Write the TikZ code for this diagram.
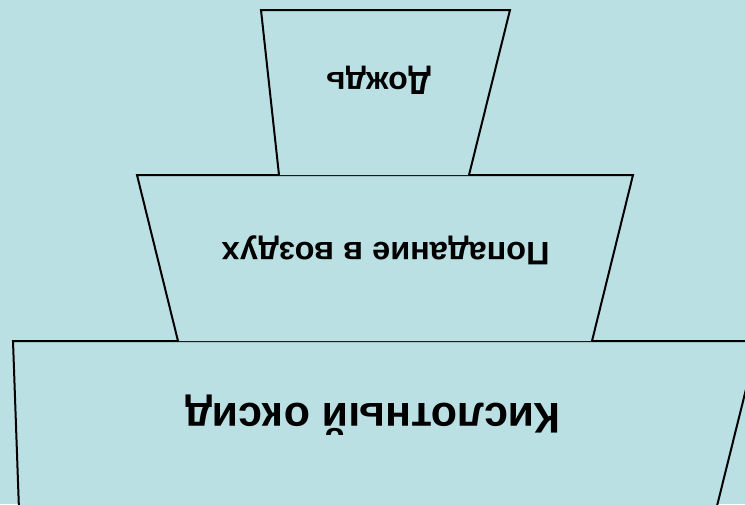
\documentclass[tikz,border=0pt]{standalone}
\usepackage{fontspec}
\setmainfont{Liberation Sans}
\definecolor{bgc}{HTML}{BBE0E3}
\begin{document}
\begin{tikzpicture}[x=1pt,y=-1pt,
  blk/.style={draw=black,line width=2pt,fill=bgc,line join=miter},
  lbl/.style={rotate=180,inner sep=0pt,anchor=base}]
\fill[bgc] (0,0) rectangle (745,504);
\useasboundingbox (0,0) rectangle (745,504);
% bottom block (largest)
\draw[blk] (19,510) -- (13,341) -- (758,341) -- (716,510);
% middle block
\draw[blk] (178,341) -- (137,175) -- (633,175) -- (592,341);
% top block
\draw[blk] (279,175) -- (261,10) -- (510,10) -- (469,175);
\node[lbl,font=\bfseries\fontsize{32}{34}\selectfont] (rain) at (378.5,72) {Дождь};
\node[lbl,font=\bfseries\fontsize{32.5}{34}\selectfont] (air) at (385.5,242) {Попадание в воздух};
\node[lbl,font=\bfseries\fontsize{43}{45}\selectfont] (oxide) at (373,403) {Кислотный оксид};
\end{tikzpicture}
\end{document}
